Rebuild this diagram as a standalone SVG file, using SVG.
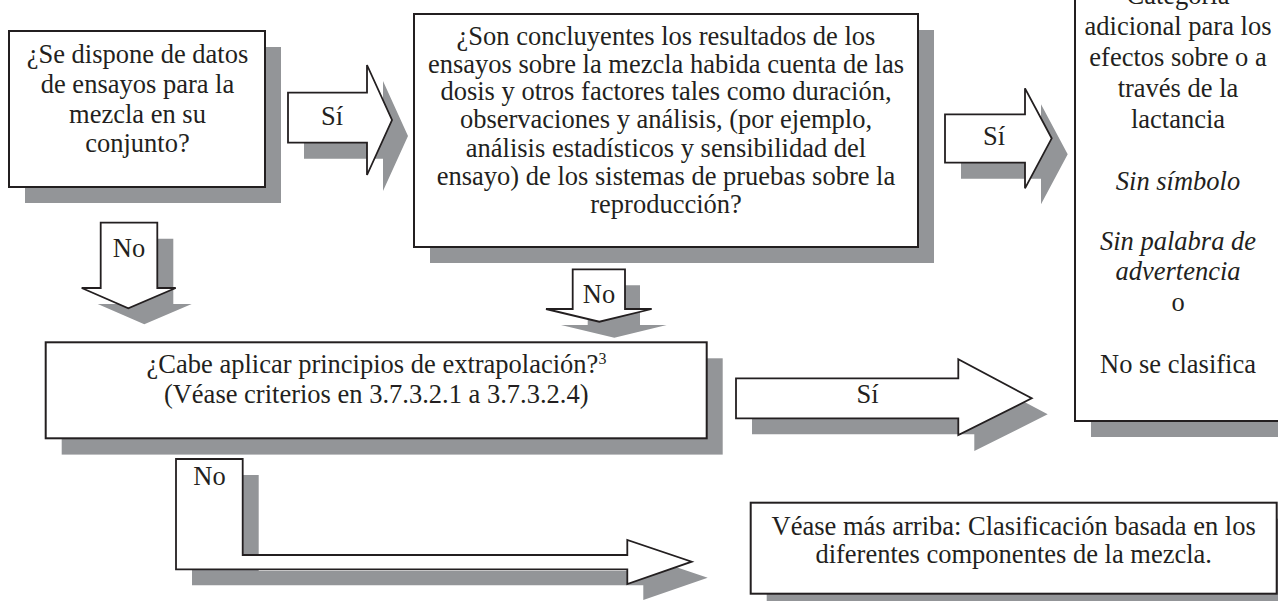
<svg xmlns="http://www.w3.org/2000/svg" width="1278" height="601" viewBox="0 0 1278 601">
<style>
.bg{fill:#ffffff}
.sh{fill:#939598;stroke:none}
.box{fill:#ffffff;stroke:#231f20;stroke-width:2}
.arr{fill:#ffffff;stroke:#231f20;stroke-width:1.8;stroke-linejoin:miter}
text{font-family:"Liberation Serif","Times New Roman",serif;font-size:26.5px;fill:#231f20;text-anchor:middle}
.it{font-style:italic}
</style>
<rect class="bg" x="0" y="0" width="1278" height="601"/>

<g id="connectors">
  <g id="arrow-si-1">
    <polygon class="sh" transform="translate(16,16)" points="288,92.7 367,92.7 367,65 392,120 367,175 367,142.7 288,142.7"/>
    <polygon class="arr" points="288,92.7 367,92.7 367,65 392,120 367,175 367,142.7 288,142.7"/>
    <text x="332" y="125">Sí</text>
  </g>
  <g id="arrow-si-2">
    <polygon class="sh" transform="translate(16,16)" points="945,114.3 1025,114.3 1025,88.3 1051.7,138.3 1025,188.3 1025,162.7 945,162.7"/>
    <polygon class="arr" points="945,114.3 1025,114.3 1025,88.3 1051.7,138.3 1025,188.3 1025,162.7 945,162.7"/>
    <text x="994" y="145">Sí</text>
  </g>
  <g id="arrow-no-1">
    <polygon class="sh" transform="translate(16,16)" points="100.7,222.7 157.3,222.7 157.3,288 175.7,288 128.3,308.3 81.7,288 100.7,288"/>
    <polygon class="arr" points="100.7,222.7 157.3,222.7 157.3,288 175.7,288 128.3,308.3 81.7,288 100.7,288"/>
    <text x="129" y="256.7">No</text>
  </g>
  <g id="arrow-no-2">
    <polygon class="sh" transform="translate(15,16)" points="572.7,269.3 625,269.3 625,309 651.7,309 599.3,321.7 546,309 572.7,309"/>
    <polygon class="arr" points="572.7,269.3 625,269.3 625,309 651.7,309 599.3,321.7 546,309 572.7,309"/>
    <text x="599" y="302.7">No</text>
  </g>
  <g id="arrow-si-3">
    <polygon class="sh" transform="translate(16,16)" points="736,378.3 958.3,378.3 958.3,359.3 1031.7,398.3 958.3,435 958.3,418.3 736,418.3"/>
    <polygon class="arr" points="736,378.3 958.3,378.3 958.3,359.3 1031.7,398.3 958.3,435 958.3,418.3 736,418.3"/>
    <text x="867.5" y="403.3">Sí</text>
  </g>
  <g id="arrow-no-3">
    <polygon class="sh" transform="translate(16,16)" points="176,459 242.7,459 242.7,555 627.3,555 627.3,540 691.7,561.7 627.3,584 627.3,569.3 176,569.3"/>
    <polygon class="arr" points="176,459 242.7,459 242.7,555 627.3,555 627.3,540 691.7,561.7 627.3,584 627.3,569.3 176,569.3"/>
    <text x="209.5" y="485">No</text>
  </g>
</g>

<g id="node-datos">
  <rect class="sh" x="25" y="47" width="256" height="156"/>
  <rect class="box" x="9" y="31" width="256" height="156"/>
  <text x="137.5" y="63.3">¿Se dispone de datos</text>
  <text x="137.5" y="93">de ensayos para la</text>
  <text x="137.5" y="122.5">mezcla en su</text>
  <text x="137.5" y="151.7">conjunto?</text>
</g>

<g id="node-concluyentes">
  <rect class="sh" x="430" y="30" width="504" height="233"/>
  <rect class="box" x="414" y="14" width="504" height="233"/>
  <text x="666" y="45">¿Son concluyentes los resultados de los</text>
  <text x="666" y="72.7">ensayos sobre la mezcla habida cuenta de las</text>
  <text x="666" y="100.3">dosis y otros factores tales como duración,</text>
  <text x="666" y="128.3">observaciones y análisis, (por ejemplo,</text>
  <text x="666" y="156.7">análisis estadísticos y sensibilidad del</text>
  <text x="666" y="185">ensayo) de los sistemas de pruebas sobre la</text>
  <text x="666" y="213.3">reproducción?</text>
</g>

<g id="node-categoria">
  <rect class="sh" x="1091" y="-4" width="206" height="441"/>
  <rect class="box" x="1075" y="-20" width="206" height="441"/>
  <text x="1178" y="4.3">Categoría</text>
  <text x="1178" y="35">adicional para los</text>
  <text x="1178" y="65.5">efectos sobre o a</text>
  <text x="1178" y="96.7">través de la</text>
  <text x="1178" y="128">lactancia</text>
  <text class="it" x="1178" y="190">Sin símbolo</text>
  <text class="it" x="1178" y="250">Sin palabra de</text>
  <text class="it" x="1178" y="280.3">advertencia</text>
  <text x="1178" y="310.7">o</text>
  <text x="1178" y="373.3">No se clasifica</text>
</g>

<g id="node-extrapolacion">
  <rect class="sh" x="61.7" y="358.3" width="661" height="96.3"/>
  <rect class="box" x="45.7" y="342.3" width="661" height="96"/>
  <text x="376.5" y="373.3">¿Cabe aplicar principios de extrapolación?<tspan font-size="16" dy="-9">3</tspan></text>
  <text x="376.2" y="403.3">(Véase criterios en 3.7.3.2.1 a 3.7.3.2.4)</text>
</g>

<g id="node-componentes">
  <rect class="sh" x="766.7" y="518.7" width="526" height="91"/>
  <rect class="box" x="750.7" y="502.7" width="526" height="91"/>
  <text x="1013.7" y="535">Véase más arriba: Clasificación basada en los</text>
  <text x="1013.7" y="563.3">diferentes componentes de la mezcla.</text>
</g>
</svg>
